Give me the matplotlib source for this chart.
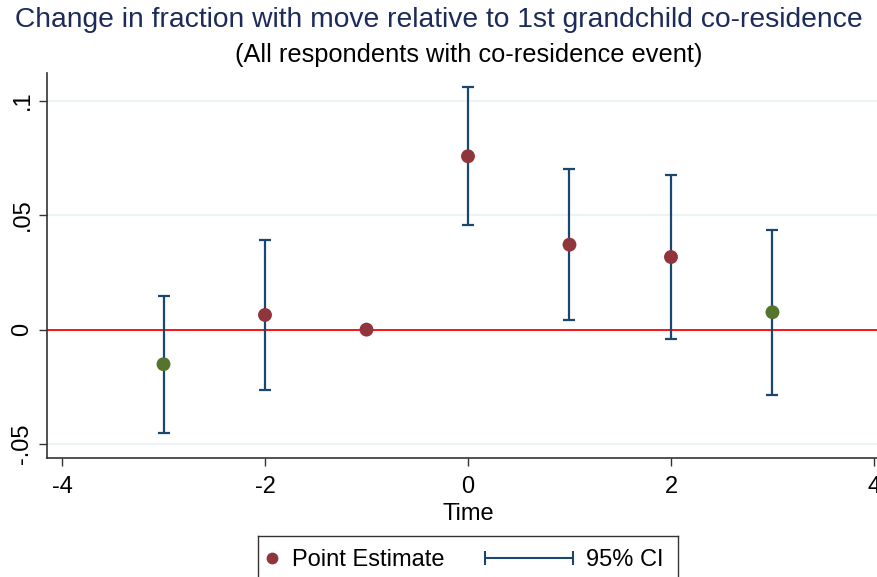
import matplotlib.pyplot as plt
import matplotlib.transforms as mtrans
import numpy as np

plt.rcParams['font.family'] = ['Liberation Sans', 'DejaVu Sans']

# event time relative to 1st grandchild co-residence
time = [-3, -2, -1, 0, 1, 2, 3]
estimate = [-0.0151, 0.0064, 0.0, 0.0757, 0.0371, 0.0317, 0.0076]
ci_low = [-0.0450, -0.0262, np.nan, 0.0459, 0.0042, -0.0042, -0.0284]
ci_high = [0.0148, 0.0393, np.nan, 0.1060, 0.0700, 0.0677, 0.0435]
# marker colour per point: green = outside the main window
point_group = ['edge', 'main', 'main', 'main', 'main', 'main', 'edge']

xticks = [-4, -2, 0, 2, 4]
yticks = [-0.05, 0, 0.05, 0.1]
yticklabels = ['-.05', '0', '.05', '.1']
legend_labels = ['Point Estimate', '95% CI']

navy = '#1a476f'
maroon = '#90353b'
green = '#55752f'
grid_col = '#eaf2f3'
W, H = 878, 577

fig = plt.figure(figsize=(8.78, 5.77), dpi=100)
ax = fig.add_axes([47.3 / W, 1 - 458.3 / H, (877 - 47.3) / W, (458.3 - 72.7) / H])

for y in yticks:
    ax.axhline(y, color=grid_col, lw=1.2, zorder=0)
ax.axhline(0, color='#ff0000', lw=1.3, zorder=1)

t = np.array(time)
lo = np.array(ci_low)
hi = np.array(ci_high)
est = np.array(estimate)
ok = ~np.isnan(lo)
ax.errorbar(t[ok], (lo[ok] + hi[ok]) / 2, yerr=(hi[ok] - lo[ok]) / 2, fmt='none',
            ecolor=navy, elinewidth=1.6, capsize=4.5, capthick=1.6, zorder=2)

cols = [maroon if g == 'main' else green for g in point_group]
ax.scatter(t, est, s=100, c=cols, zorder=3, linewidths=0)

ax.set_xlim(-4.145, 4.03)
ax.set_ylim(-0.0562, 0.1122)
ax.set_xticks(xticks)
ax.set_xticklabels([str(v) for v in xticks])
ax.set_yticks(yticks)
ax.set_yticklabels(yticklabels, rotation=90, va='center')
ax.tick_params(labelsize=17, length=6, width=1, color='#333333', pad=4)
ax.tick_params(axis='x', pad=7)
for s in ['top', 'right']:
    ax.spines[s].set_visible(False)
for s in ['left', 'bottom']:
    ax.spines[s].set_color('#333333')
    ax.spines[s].set_linewidth(1.2)
ax.set_xlabel('Time', fontsize=17)
# Stata centres the axis title over the full plot region (wider than the image)
ax.xaxis.set_label_coords(0, -0.115, transform=mtrans.blended_transform_factory(ax.transData, ax.transAxes))

fig.text(0.5, 1 - 20 / H, 'Change in fraction with move relative to 1st grandchild co-residence',
         ha='center', va='center', fontsize=20.3, color='#1c2b5a')
fig.text(469 / W, 1 - 55 / H, '(All respondents with co-residence event)',
         ha='center', va='center', fontsize=18.3, color='black')

# legend box drawn by hand (bottom edge falls off the image)
lax = fig.add_axes([258 / W, 0, 420 / W, (H - 536) / H])
lax.set_xlim(0, 420)
lax.set_ylim(0, H - 536)
lax.set_xticks([])
lax.set_yticks([])
lax.spines['bottom'].set_visible(False)
for s in ['top', 'left', 'right']:
    lax.spines[s].set_color('#333333')
    lax.spines[s].set_linewidth(1.0)
lax.plot([14], [19], 'o', color=maroon, markersize=8.5, mec='none')
lax.text(34, 17.5, legend_labels[0], fontsize=17, va='center', ha='left')
lax.errorbar([271], [19], xerr=[44], fmt='none', ecolor=navy, elinewidth=1.5,
             capsize=5, capthick=1.5)
lax.text(328, 17.5, legend_labels[1], fontsize=17, va='center', ha='left')

fig.savefig('out.png', dpi=100)
